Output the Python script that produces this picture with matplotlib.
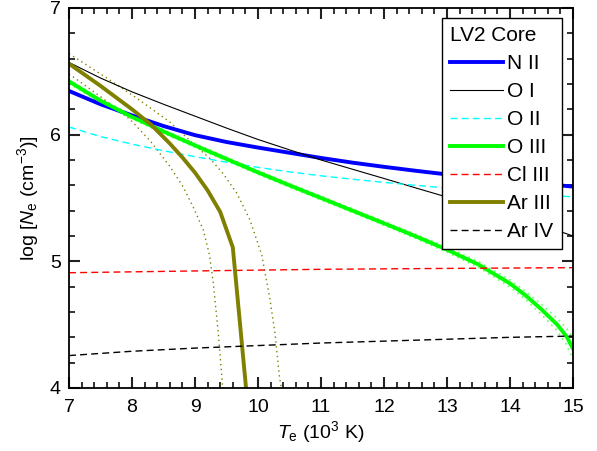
import matplotlib
matplotlib.use("Agg")
import matplotlib.pyplot as plt
import numpy as np

plt.rcParams['font.family'] = ['Liberation Sans', 'DejaVu Sans']
plt.rcParams['mathtext.fontset'] = 'custom'
plt.rcParams['mathtext.rm'] = 'Liberation Sans'
plt.rcParams['mathtext.it'] = 'Liberation Sans:italic'

# temperature grid (10^3 K)
te = [7, 7.5, 8, 8.5, 9, 9.5, 10, 10.5, 11, 11.5, 12, 12.5, 13, 13.5, 14, 14.5, 15]

n2 = [6.345, 6.240, 6.152, 6.068, 5.996, 5.942, 5.898, 5.857, 5.816, 5.779, 5.746,
      5.715, 5.686, 5.660, 5.635, 5.612, 5.590]
o1 = [6.570, 6.447, 6.338, 6.240, 6.146, 6.052, 5.962, 5.880, 5.800, 5.727, 5.654,
      5.580, 5.507, 5.433, 5.360, 5.286, 5.200]
o2 = [6.060, 5.985, 5.925, 5.873, 5.826, 5.782, 5.742, 5.706, 5.675, 5.648, 5.623,
      5.600, 5.579, 5.560, 5.542, 5.525, 5.509]

te_o3 = [7, 7.5, 8, 8.5, 9, 9.5, 10, 10.5, 11, 11.5, 12, 12.5, 13, 13.5, 14,
         14.25, 14.5, 14.75, 14.9, 15]
o3 = [6.420, 6.268, 6.140, 6.025, 5.915, 5.808, 5.702, 5.600, 5.500, 5.400, 5.300,
      5.198, 5.092, 4.975, 4.825, 4.730, 4.620, 4.500, 4.405, 4.310]
o3_hi = [6.435, 6.283, 6.155, 6.040, 5.930, 5.823, 5.717, 5.615, 5.515, 5.415, 5.316,
         5.215, 5.112, 4.998, 4.853, 4.762, 4.660, 4.550, 4.470, 4.390]
o3_lo = [6.405, 6.253, 6.125, 6.010, 5.900, 5.793, 5.687, 5.585, 5.485, 5.385, 5.284,
         5.181, 5.072, 4.952, 4.797, 4.698, 4.580, 4.450, 4.340, 4.230]

te_cl = [7, 9, 11, 13, 15]
cl3 = [4.910, 4.924, 4.937, 4.944, 4.950]

te_ar4 = [7, 8, 9, 10, 11, 12, 13, 14, 15]
ar4 = [4.256, 4.290, 4.315, 4.335, 4.355, 4.370, 4.385, 4.400, 4.410]

te_ar3 = [7, 7.5, 8, 8.3, 8.6, 8.8, 9.0, 9.2, 9.4, 9.6, 9.81]
ar3 = [6.56, 6.385, 6.20, 6.08, 5.93, 5.82, 5.70, 5.56, 5.39, 5.11, 4.0]

te_ar3_lo = [7, 7.5, 7.97, 8.29, 8.6, 8.81, 8.97, 9.13, 9.23, 9.29, 9.37, 9.44]
ar3_lo = [6.48, 6.30, 6.12, 5.95, 5.75, 5.59, 5.43, 5.25, 5.05, 4.83, 4.43, 4.0]
te_ar3_hi = [7, 7.65, 8.07, 8.6, 8.97, 9.24, 9.45, 9.66, 9.87, 10.06, 10.19, 10.27, 10.34, 10.37]
ar3_hi = [6.64, 6.43, 6.29, 6.10, 5.93, 5.81, 5.69, 5.54, 5.33, 5.05, 4.70, 4.43, 4.09, 4.0]

fig = plt.figure(figsize=(5.97, 4.51), dpi=100)
ax = fig.add_axes([0.1156, 0.1397, 0.8442, 0.8426])

dot = (0, (1, 2.5))
ax.plot(te_o3, o3_hi, color='#66ff66', lw=1.2, ls=dot)
ax.plot(te_o3, o3_lo, color='#66ff66', lw=1.2, ls=dot)
ax.plot(te_ar3_lo, ar3_lo, color='#808000', lw=1, ls=dot)
ax.plot(te_ar3_hi, ar3_hi, color='#808000', lw=1, ls=dot)

thick = 2.8
ax.plot(te, n2, color='#0000ff', lw=thick, label='N II')
ax.plot(te, o1, color='black', lw=0.8, label='O I')
ax.plot(te, o2, color='#00ffff', lw=1, ls=(0, (5, 3)), label='O II')
ax.plot(te_o3, o3, color='#00ff00', lw=thick, label='O III')
ax.plot(te_cl, cl3, color='#ff0000', lw=1, ls=(0, (5, 3)), label='Cl III')
ax.plot(te_ar3, ar3, color='#808000', lw=thick, label='Ar III')
ax.plot(te_ar4, ar4, color='black', lw=1, ls=(0, (5, 3)), label='Ar IV')

ax.set_xlim(7, 15)
ax.set_ylim(4, 7)
ax.set_xticks(np.arange(7, 16, 1))
ax.set_xticks(np.arange(7, 15.01, 0.2), minor=True)
ax.set_yticks(np.arange(4, 8, 1))
ax.set_yticks(np.arange(4, 7.01, 0.2), minor=True)
ax.set_xlim(7, 15)
ax.set_ylim(4, 7)
ax.tick_params(which='both', direction='in', top=True, right=True, color='#222222')
ax.tick_params(which='major', length=8, width=1.5, labelsize=14)
ax.tick_params(which='minor', length=4.5, width=1.3)
ax.tick_params(axis='x', which='major', pad=8)
ax.tick_params(axis='y', which='major', pad=6)
for s in ax.spines.values():
    s.set_linewidth(1.3)

ax.set_xlabel(r'$\mathit{T}_{\rm e}$ (10$^{3}$ K)', fontsize=14, labelpad=2)
ax.set_ylabel(r'log [$\mathit{N}_{\rm e}$ (cm$^{-3}$)]', fontsize=14, labelpad=6)

leg = ax.legend(loc='upper right', bbox_to_anchor=(0.978, 0.974), borderaxespad=0,
                title='LV2 Core', title_fontsize=15, fontsize=15, fancybox=False,
                edgecolor='black', framealpha=1, handlelength=2.55, labelspacing=0.43,
                handletextpad=0.2, borderpad=0.4)
leg.get_frame().set_linewidth(1)
leg._legend_box.align = 'left'

fig.savefig('out.png', dpi=100)
